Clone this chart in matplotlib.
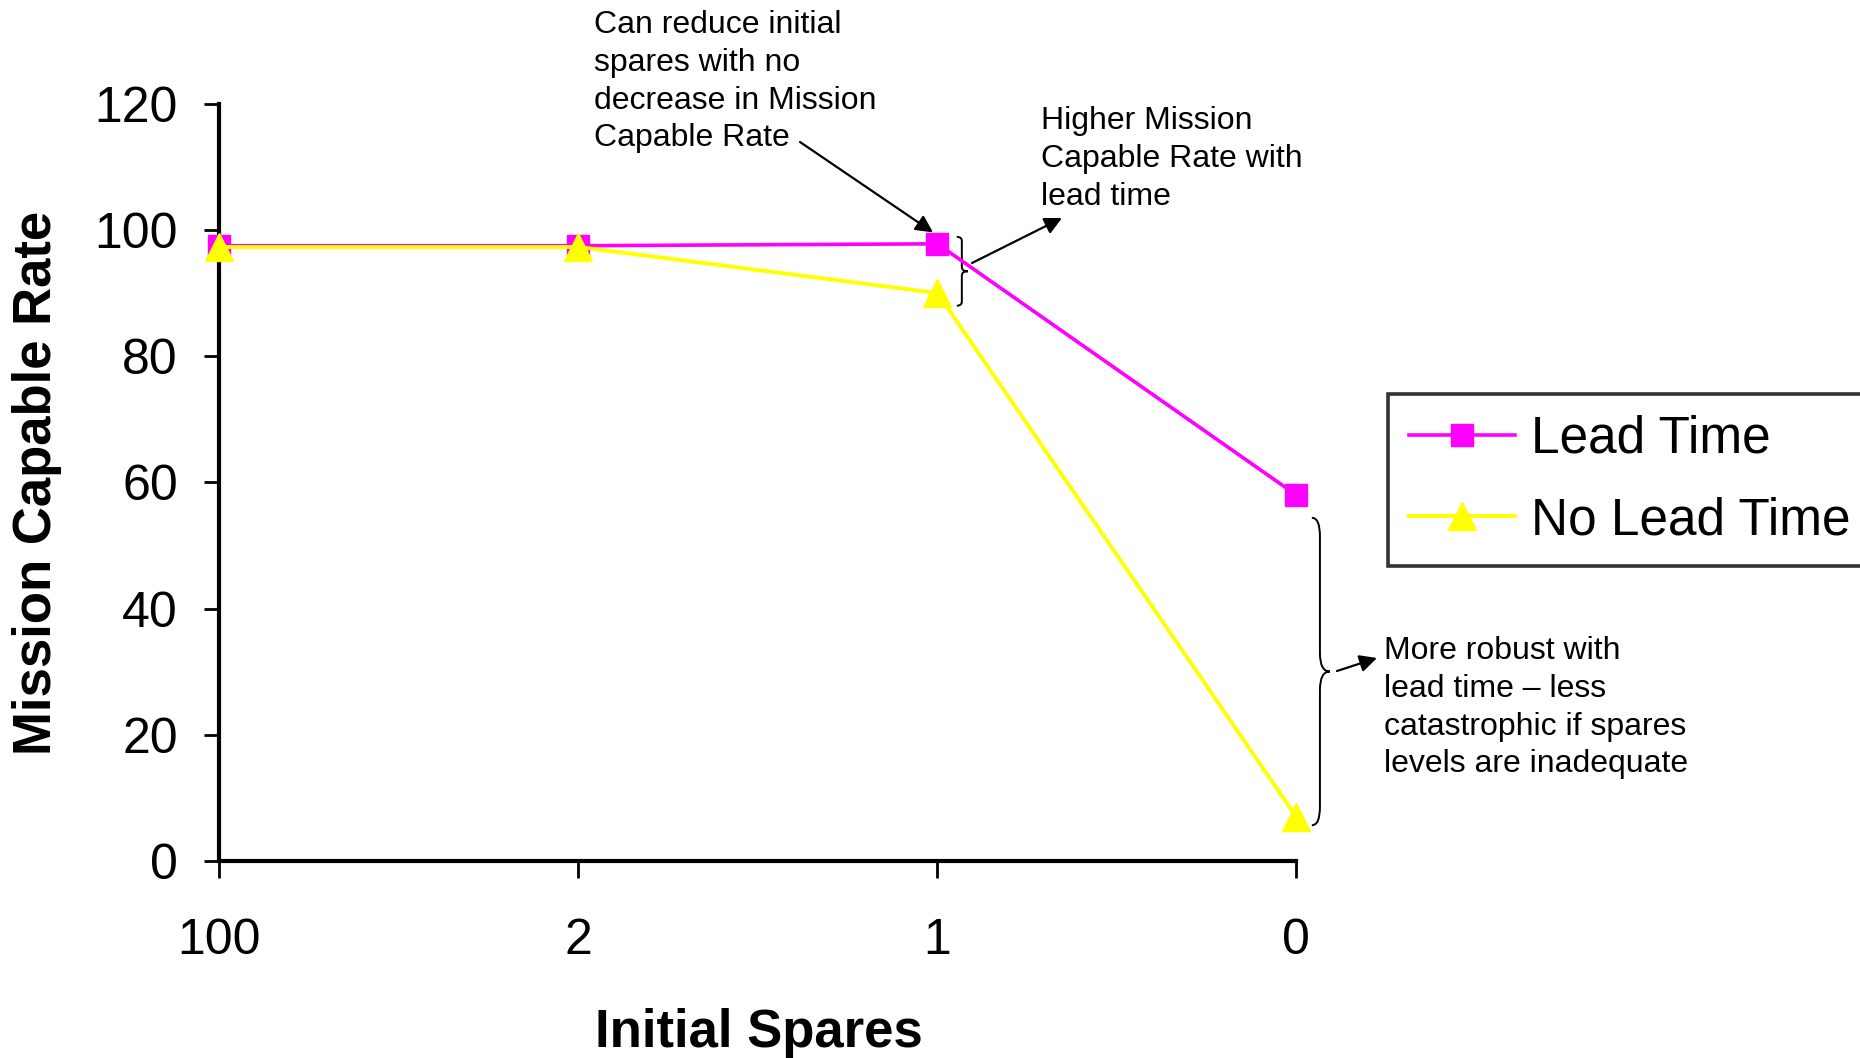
import matplotlib
matplotlib.use("Agg")
import matplotlib.pyplot as plt
from matplotlib.path import Path
from matplotlib.patches import PathPatch

plt.rcParams['font.family'] = ['Liberation Sans', 'DejaVu Sans']

# Mission capable rate by number of initial spares
spares_labels = ['100', '2', '1', '0']
lead_time = [97.5, 97.5, 97.8, 58]
no_lead_time = [97.3, 97.3, 90, 7]

MAGENTA = '#FF00FF'
YELLOW = '#FFFF00'


def brace(ax, x0, x1, ytop, ybot, lw=1.4):
    """Right-pointing curly brace in data coordinates."""
    xm = x0 + (x1 - x0) * 0.45
    ymid = (ytop + ybot) / 2
    d = (ytop - ybot) * 0.06
    verts = [(x0, ytop), (xm, ytop), (xm, ytop - d),
             (xm, ymid + d),
             (xm, ymid), (x1, ymid),
             (xm, ymid), (xm, ymid - d),
             (xm, ybot + d),
             (xm, ybot), (x0, ybot)]
    codes = [Path.MOVETO, Path.CURVE3, Path.CURVE3,
             Path.LINETO,
             Path.CURVE3, Path.CURVE3,
             Path.CURVE3, Path.CURVE3,
             Path.LINETO,
             Path.CURVE3, Path.CURVE3]
    ax.add_patch(PathPatch(Path(verts, codes), fill=False, lw=lw,
                           ec='black', clip_on=False))


fig = plt.figure(figsize=(18.6, 10.58), dpi=100)
ax = fig.add_axes([0.118, 0.186, 0.579, 0.716])

x = range(len(spares_labels))
ax.plot(x, lead_time, color=MAGENTA, lw=2.6, marker='s', ms=16,
        mec=MAGENTA, mew=1, clip_on=False, zorder=3, label='Lead Time')
ax.plot(x, no_lead_time, color=YELLOW, lw=2.8, marker='^', ms=20,
        mec=YELLOW, mew=1, clip_on=False, zorder=4, label='No Lead Time')

ax.set_xlim(0, 3)
ax.set_ylim(0, 120)
ax.set_xticks(list(x))
ax.set_xticklabels(spares_labels)
ax.set_yticks(range(0, 121, 20))

for side in ('top', 'right'):
    ax.spines[side].set_visible(False)
for side in ('left', 'bottom'):
    ax.spines[side].set_linewidth(3)
ax.tick_params(axis='y', direction='out', length=11, width=2, pad=19,
               labelsize=36)
ax.tick_params(axis='x', direction='out', length=12, width=2, pad=29,
               labelsize=36)

ax.set_ylabel('Mission Capable Rate', fontsize=38, fontweight='bold')
ax.yaxis.set_label_coords(-0.146, 0.5)
ax.set_xlabel('Initial Spares', fontsize=38, fontweight='bold')
ax.xaxis.set_label_coords(0.501, -0.194)

leg = ax.legend(loc='upper left', bbox_to_anchor=(1388 / 1860, 1 - 394 / 1058),
                bbox_transform=fig.transFigure, borderaxespad=0,
                fontsize=37, frameon=True, fancybox=False, handlelength=2.08,
                handletextpad=0.3, borderpad=0.4, labelspacing=0.64)
leg.get_frame().set_edgecolor('black')
leg.get_frame().set_linewidth(2.6)

# braces highlighting the gap between the two series
brace(ax, 2.054, 2.085, 98.9, 88.0)
brace(ax, 3.043, 3.093, 54.4, 5.7)

note_kw = dict(fontsize=23, linespacing=1.34, ha='left', va='top')
arrow_kw = dict(arrowstyle='-|>', color='black', lw=1.6, mutation_scale=26,
                shrinkA=0, shrinkB=0)

fig.text(594 / 1860, 1 - 10 / 1058,
         'Can reduce initial\nspares with no\ndecrease in Mission\nCapable Rate',
         **note_kw)
ax.annotate('', xy=(1.988, 99.6), xytext=(800, 1058 - 142),
            textcoords='figure pixels', arrowprops=arrow_kw,
            annotation_clip=False)

fig.text(1041 / 1860, 1 - 106 / 1058,
         'Higher Mission\nCapable Rate with\nlead time', **note_kw)
ax.annotate('', xy=(1062, 1058 - 218), xycoords='figure pixels',
            xytext=(972, 1058 - 263), textcoords='figure pixels',
            arrowprops=arrow_kw, annotation_clip=False)

fig.text(1384 / 1860, 1 - 636 / 1058,
         'More robust with\nlead time \u2013 less\ncatastrophic if spares\n'
         'levels are inadequate', **note_kw)
ax.annotate('', xy=(1377, 1058 - 658), xycoords='figure pixels',
            xytext=(1337, 1058 - 671), textcoords='figure pixels',
            arrowprops=arrow_kw, annotation_clip=False)

fig.savefig('out.png', dpi=100)
